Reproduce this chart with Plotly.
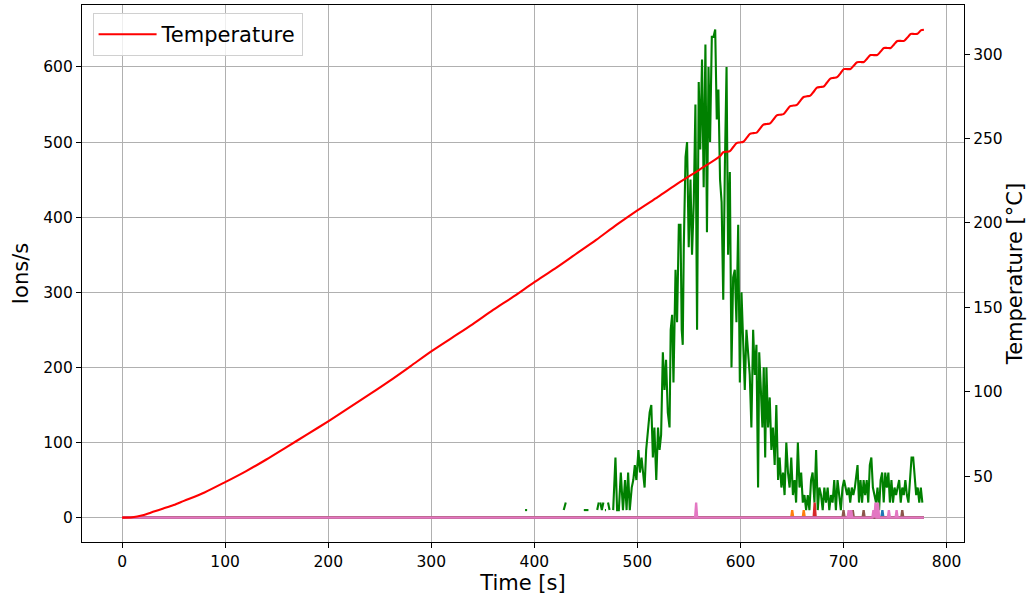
import plotly.graph_objects as go

# ---------------- data ----------------
# Temperature (right axis)
temp_time = [0, 10, 20, 30, 40, 50, 60, 80, 100, 120, 140, 160, 180, 200, 220, 240, 260, 280,
             300, 320, 340, 360, 380, 400, 420, 440, 460, 480, 500, 520, 540, 560,
             580.00, 583.25, 586.50, 589.75, 593.00, 596.25, 599.50, 602.75, 606.00, 609.25,
             612.50, 615.75, 619.00, 622.25, 625.50, 628.75, 632.00, 635.25, 638.50, 641.75,
             645.00, 648.25, 651.50, 654.75, 658.00, 661.25, 664.50, 667.75, 671.00, 674.25,
             677.50, 680.75, 684.00, 687.25, 690.50, 693.75, 697.00, 700.25, 703.50, 706.75,
             710.00, 713.25, 716.50, 719.75, 723.00, 726.25, 729.50, 732.75, 736.00, 739.25,
             742.50, 745.75, 749.00, 752.25, 755.50, 758.75, 762.00, 765.25, 768.50, 771.75,
             775.00, 778.00]
temp_value = [25.6, 25.8, 27.0, 29.0, 31.0, 33.0, 35.5, 40.5, 46.6, 53.0, 60.0, 67.5, 75.0, 82.6,
              90.5, 98.5, 106.7, 115.3, 124.0, 132.0, 140.0, 148.5, 156.5, 165.0, 173.0, 181.5,
              190.0, 199.0, 207.5, 215.5, 223.7, 231.5,
              239.5, 241.9, 242.2, 242.6, 245.0, 247.3, 247.7, 248.1, 250.4, 252.8,
              253.2, 253.5, 255.9, 258.2, 258.6, 259.0, 261.3, 263.7, 264.1, 264.4,
              266.8, 269.2, 269.5, 269.9, 272.3, 274.6, 275.0, 275.4, 277.7, 280.1,
              280.5, 280.8, 283.2, 285.5, 285.9, 286.3, 288.6, 291.1, 291.1, 291.2,
              293.2, 295.2, 295.3, 295.3, 297.4, 299.4, 299.4, 299.5, 301.5, 303.6,
              303.6, 303.6, 305.7, 307.7, 307.8, 307.8, 309.8, 311.9, 311.9, 312.0,
              314.0, 314.4]

# Main ion signal (green); None marks gaps (no counts)
green_time = [391, 393, None, 428.5, 430.5, None, 448, 450, 452.5, None, 461, 462.5, None,
              464, 465.5, 467, None, 468.5, 469.5, None, 471.5, 473, None,
              476.5, 478.7, 480.3, 482, 483.9, 486, 488, 489.5, 491, 492.6, 494.5, 496, 497.5, 499,
              501, 502.5, 504, 505.5, 507, 508.5, 510, 511.9, 513.5, 515, 516.5, 518.3, 520, 521.5,
              523, 524.7, 526.3, 527.8, 529.5, 531.2, 532.3, 533.7, 535, 537, 538.5, 540.2, 541.8,
              543, 544, 545, 546.7, 548.2, 549.8, 551.5, 553, 554.7, 556.3, 557.9, 559.5, 561,
              562.7, 564.3, 566, 567.5, 569, 570.5, 572.2, 573.8, 575.5, 577, 578.6, 580.2, 581.7,
              583.3, 584.9, 586.5, 588, 589.7, 591.3, 592.9, 594.5, 596.1, 597.8, 599.4, 601,
              602.6, 604.2, 605.8, 607.4, 609, 610.6, 612.3, 613.9, 615.5, 617.1, 618.2, 619.5,
              621.3, 622.6, 624, 625.2, 626.8, 628.4, 630, 631.5, 633.2, 634.8, 636.5, 638, 639.7,
              641.3, 642.8, 644.5, 646.1, 647.7, 649.3, 650.9, 652.5, 654, 655.7, 657.3, 658.9,
              660.5, 662.1, 663.7, 665.3, 666.9, 668.5, 670, 671.8, 673.4, 675, 676.6, 678.2,
              679.8, 681.4, 683, 684.6, 686.2, 687.8, 689.4, 691, 692.6, 694.2, 695.8, 697.4, 699,
              700.5, 702, 703.5, 705, 706.5, 708, 709.5, 711, 713.6, 715, 716.5, 718, 719.5, 721,
              722.5, 724, 725.5, 727, 728.5, 730, 731.5, 733, 734.5, 736, 737.5, 739, 740.5, 742,
              743.5, 745, 746.5, 748, 749.5, 751, 752.5, 754, 755.5, 757, 758.5, 760, 761.5, 763,
              764.5, 766, 767.6, 769, 770.5, 772, 773.5, 775, 776.5]
green_value = [10, 10, None, 10, 20, None, 10, 10, 10, None, 10, 20, None,
               20, 10, 20, None, 10, 10, None, 20, 10, None,
               10, 80, 10, 10, 60, 10, 50, 10, 60, 10, 40, 50, 70, 50,
               90, 60, 80, 60, 40, 90, 110, 140, 150, 80, 120, 50, 120, 90,
               110, 220, 170, 210, 140, 120, 250, 270, 180, 330, 260, 390, 390,
               250, 230, 360, 480, 500, 360, 450, 350, 420, 550, 250, 580, 490,
               610, 440, 630, 380, 600, 500, 640, 640, 650, 530, 570, 450, 420,
               290, 470, 600, 350, 460, 200, 320, 330, 260, 390, 180, 300,
               220, 170, 250, 220, 190, 120, 250, 190, 230, 40, 220, 180,
               120, 200, 80, 200, 120, 160, 90, 120, 70, 150, 50, 80, 40,
               60, 30, 100, 60, 40, 80, 30, 50, 20, 100, 40, 60,
               20, 30, 10, 30, 10, 50, 60, 20, 90, 10, 40, 30,
               10, 40, 20, 40, 10, 30, 20, 50, 10, 50, 30, 10, 40,
               50, 40, 30, 40, 20, 40, 30, 40, 70, 20, 50, 20, 50, 30,
               50, 20, 70, 80, 40, 30, 20, 40, 10, 50, 60, 20, 60, 40,
               60, 20, 50, 20, 40, 30, 40, 50, 20, 40, 30, 50, 30, 20,
               50, 80, 80, 50, 30, 40, 20, 40, 20]

# Minor ion channels: zero except for a few short spikes
t_end = 778
blue_spike_t, blue_spike_v = [737.7], [10]
orange_spike_t, orange_spike_v = [650.2, 661.4], [10, 10]
red_spike_t, red_spike_v = [672.0], [20]
purple_spike_t, purple_spike_v = [], []
brown_spike_t, brown_spike_v = [700.0, 709.0, 719.5, 757.0], [10, 10, 10, 10]
pink_spike_t = [557.0, 705.0, 707.5, 729.0, 731.0, 733.5, 744.0, 751.5]
pink_spike_v = [20, 10, 10, 10, 20, 20, 10, 10]

x_ticks = [0, 100, 200, 300, 400, 500, 600, 700, 800]
y_ticks = [0, 100, 200, 300, 400, 500, 600]
y2_ticks = [50, 100, 150, 200, 250, 300]


def spike_series(times, values, half=1.0):
    ts, vs = [0], [0]
    for t, v in zip(times, values):
        ts += [t - half, t, t + half]
        vs += [0, v, 0]
    ts.append(t_end)
    vs.append(0)
    return ts, vs


FONT = "DejaVu Sans"
fig = go.Figure()

channels = [
    (blue_spike_t, blue_spike_v, "#1f77b4"),
    (orange_spike_t, orange_spike_v, "#ff7f0e"),
    None,  # green goes here
    (red_spike_t, red_spike_v, "#d62728"),
    (purple_spike_t, purple_spike_v, "#9467bd"),
    (brown_spike_t, brown_spike_v, "#8c564b"),
    (pink_spike_t, pink_spike_v, "#e377c2"),
]
for ch in channels:
    if ch is None:
        fig.add_trace(go.Scatter(x=green_time, y=green_value, mode="lines",
                                 line=dict(color="#008000", width=2.1),
                                 connectgaps=False, showlegend=False, hoverinfo="skip"))
        continue
    ts, vs = spike_series(ch[0], ch[1])
    fig.add_trace(go.Scatter(x=ts, y=vs, mode="lines",
                             line=dict(color=ch[2], width=2.3),
                             showlegend=False, hoverinfo="skip"))

fig.add_trace(go.Scatter(x=temp_time, y=temp_value, mode="lines", name="Temperature",
                         line=dict(color="#ff0000", width=2.1, shape="spline", smoothing=0.8),
                         yaxis="y2"))

axis_common = dict(showline=True, linecolor="black", linewidth=1.1, ticks="outside",
                   ticklen=5, tickwidth=1.1, tickcolor="black", automargin=False,
                   tickfont=dict(family=FONT, size=15.5, color="black"),
                   zeroline=False)

fig.update_layout(
    width=1035, height=604,
    margin=dict(l=82, r=71, t=5, b=62),
    paper_bgcolor="white", plot_bgcolor="white",
    font=dict(family=FONT, color="black"),
    xaxis=dict(range=[-38.9, 816.9], tickvals=x_ticks, showgrid=True, gridcolor="#b0b0b0",
               gridwidth=1, mirror=True,
               title=dict(text="Time [s]", font=dict(family=FONT, size=21, color="black"),
                          standoff=4),
               **axis_common),
    yaxis=dict(range=[-32.5, 682.5], tickvals=y_ticks, showgrid=True, gridcolor="#b0b0b0",
               gridwidth=1, mirror=True,
               title=dict(text="Ions/s", font=dict(family=FONT, size=21, color="black"),
                          standoff=8),
               **axis_common),
    yaxis2=dict(range=[11.15, 329.05], tickvals=y2_ticks, overlaying="y", side="right",
                showgrid=False, anchor="x",
                title=dict(text="Temperature [°C]", font=dict(family=FONT, size=21, color="black"),
                           standoff=4),
                **axis_common),
    legend=dict(x=0.012, y=0.985, xanchor="left", yanchor="top", itemwidth=58,
                bgcolor="rgba(255,255,255,0.8)", bordercolor="#d0d0d0", borderwidth=1,
                font=dict(family=FONT, size=21, color="black")),
)

fig.write_html("out.html", config={"displayModeBar": False},
               post_script="document.body.style.margin='0';")
